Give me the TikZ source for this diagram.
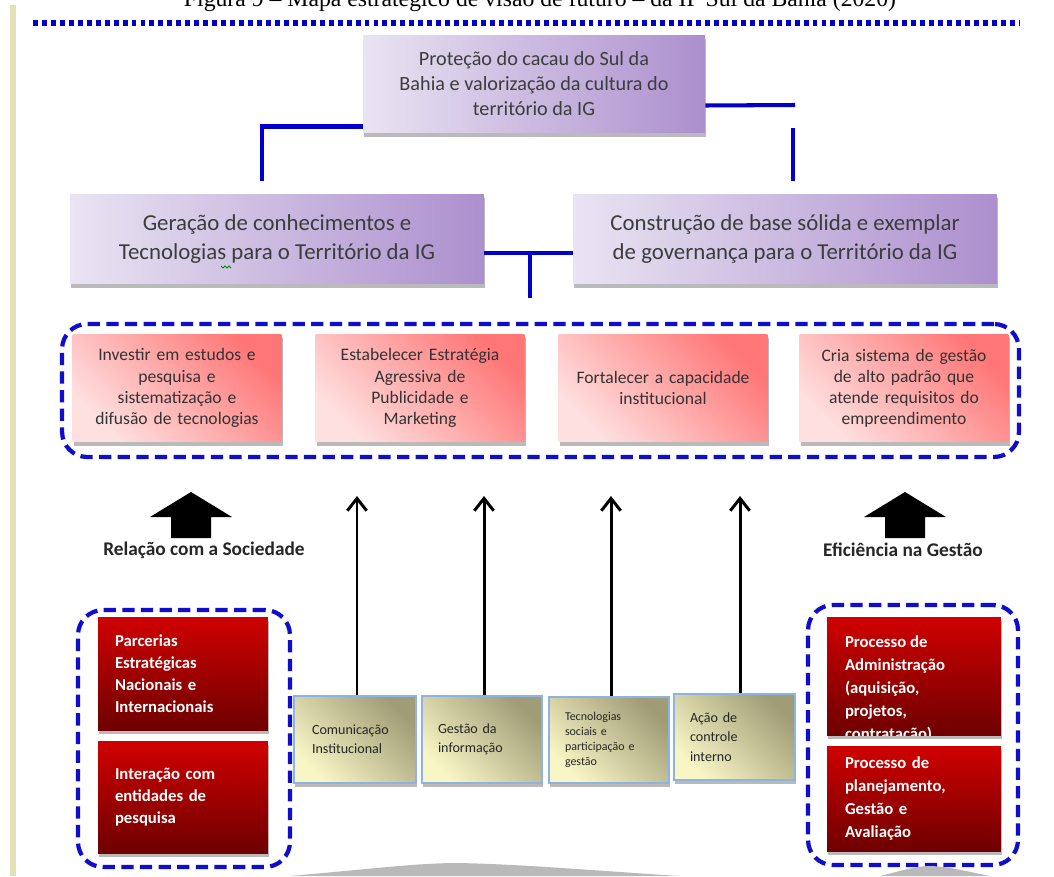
\documentclass[tikz,border=0pt]{standalone}
\usepackage{fontspec}
\setmainfont{Carlito}
\newfontfamily\capfont{Liberation Serif}
\usetikzlibrary{arrows.meta,shadows}
\definecolor{conblue}{RGB}{0,0,204}
\definecolor{dashblue}{RGB}{14,14,204}
\definecolor{purL}{RGB}{233,228,242}
\definecolor{purR}{RGB}{172,143,206}
\definecolor{pinkTR}{RGB}{255,118,118}
\definecolor{pinkBL}{RGB}{255,224,224}
\definecolor{redT}{RGB}{208,0,0}
\definecolor{redB}{RGB}{110,0,0}
\definecolor{yelTR}{RGB}{160,156,118}
\definecolor{yelBL}{RGB}{249,246,198}
\definecolor{yelBorder}{RGB}{141,179,226}
\definecolor{txtgray}{RGB}{60,60,60}
\definecolor{beige}{RGB}{229,225,182}
\tikzset{
  shad/.style={drop shadow={shadow xshift=0.8pt,shadow yshift=-2.2pt,opacity=0.45,fill=black!60}},
  purbox/.style={left color=purL,right color=purR,shad,text=txtgray,align=center,inner sep=0pt},
  pinkbox/.style={top color=pinkTR,bottom color=pinkBL,shading angle=-45,shad,
    minimum width=4.18cm,minimum height=2.16cm,text width=3.9cm,align=center,inner sep=0pt,
    text=black!80,font=\fontsize{10}{12}\selectfont},
  redbox/.style={top color=redT,bottom color=redB,shad,inner sep=0pt,
    text=white,align=left,font=\bfseries\fontsize{9.5}{12.5}\selectfont},
  yelbox/.style={top color=yelTR,bottom color=yelBL,shading angle=-45,draw=yelBorder,line width=1.2pt,
    shad,inner sep=0pt,align=left,text=black!85},
  dashbox/.style={draw=dashblue,line width=2.4pt,dash pattern=on 7pt off 3.6pt,rounded corners=0.5cm,inner sep=0pt},
  conn/.style={draw=conblue,line width=2.3pt},
  thinarr/.style={draw=black,line width=1.7pt,-{Straight Barb[length=7pt,width=11pt]}},
  sublabel/.style={font=\bfseries\fontsize{11}{13}\selectfont,text=black!85}
}
\begin{document}
\begin{tikzpicture}[x=0.02cm,y=-0.02cm]
\useasboundingbox (0,0) rectangle (1054,876);
\fill[white] (0,0) rectangle (1054,876);
% left stripe and caption
\fill[beige] (10,5) rectangle (16,876);
\node[font=\capfont\fontsize{13.5}{16}\selectfont,anchor=base,text=black] (cap) at (540,6)
  {Figura 9 – Mapa estratégico de visão de futuro – da IP Sul da Bahia (2020)};
\draw[conblue,line width=3.2pt,dash pattern=on 2.8pt off 2.3pt] (33,23) -- (1020,23);

% top box
\node[purbox,minimum width=6.84cm,minimum height=1.96cm,font=\fontsize{11.5}{14.2}\selectfont] (top) at (534,84)
  {Proteção do cacau do Sul da\\Bahia e valorização da cultura do\\território da IG};
% middle boxes
\node[purbox,minimum width=8.28cm,minimum height=1.8cm,font=\fontsize{13}{17}\selectfont] (gl) at (277,239)
  {Geração de conhecimentos e\\Tecnologias para o Território da IG};
\node[purbox,minimum width=8.48cm,minimum height=1.8cm,font=\fontsize{13}{17}\selectfont] (gr) at (785,239)
  {Construção de base sólida e exemplar\\de governança para o Território da IG};
\draw[green!55!black,line width=0.5pt] (221,266) -- (223,268) -- (225,266) -- (227,268) -- (229,266) -- (231,268);

% connectors top
\coordinate (cl) at (262,181);
\coordinate (crh) at (795,105);
\coordinate (crt) at (793,128);
\coordinate (crb) at (793,181);
\draw[conn] ([yshift=-0.85cm]top.west) -| (cl);
\draw[conn] ([yshift=-0.43cm]top.east) -- (crh);
\draw[conn] (crt) -- (crb);
\coordinate (mj) at (530,253);
\coordinate (mb) at (530,298);
\draw[conn] ([yshift=-0.28cm]gl.east) -- ([yshift=-0.28cm]gr.west);
\draw[conn] (mj) -- (mb);

% strategic objectives group
\node[dashbox,minimum width=19.14cm,minimum height=2.66cm] (grp) at (540.5,390.5) {};
\node[pinkbox] (p1) at (177,388) {Investir em estudos e\\pesquisa e\\sistematização e\\difusão de tecnologias};
\node[pinkbox] (p2) at (420,388) {Estabelecer Estratégia\\Agressiva de\\Publicidade e\\Marketing};
\node[pinkbox] (p3) at (663,388) {Fortalecer a capacidade\\institucional};
\node[pinkbox] (p4) at (904,388) {Cria sistema de gestão\\de alto padrão que\\atende requisitos do\\empreendimento};

% big arrows and labels
\fill[black] (171,538) -- (171,517) -- (150,517) -- (191,492) -- (232,517) -- (211,517) -- (211,538) -- cycle;
\fill[black] (885,538) -- (885,517) -- (864,517) -- (905,492) -- (946,517) -- (925,517) -- (925,538) -- cycle;
\node[sublabel] (lsoc) at (204,550) {Relação com a Sociedade};
\node[sublabel] (lges) at (903,550) {Eficiência na Gestão};

% left group
\node[dashbox,minimum width=4.24cm,minimum height=5.14cm] (lg) at (184,738.5) {};
\node[redbox,minimum width=3.4cm,minimum height=2.26cm,text width=2.72cm] (rl1) at (183,673.5)
  {Parcerias\\Estratégicas\\Nacionais e\\Internacionais};
\node[redbox,minimum width=3.4cm,minimum height=2.24cm,text width=2.72cm] (rl2) at (183,797)
  {Interação com\\entidades de\\pesquisa};

% right group
\node[dashbox,minimum width=4.2cm,minimum height=5.2cm] (rg) at (913,735) {};
\node[redbox,minimum width=3.48cm,minimum height=2.36cm] (rr1) at (914,676) {};
\begin{scope}
\clip (rr1.south west) rectangle (rr1.north east);
\node[anchor=north west,text=white,align=left,inner sep=0pt,font=\bfseries\fontsize{9.5}{13}\selectfont] (rr1t)
  at ([xshift=0.36cm,yshift=-0.38cm]rr1.north west)
  {Processo de\\Administração\\(aquisição,\\projetos,\\contratação)};
\end{scope}
\node[redbox,minimum width=3.48cm,minimum height=2.1cm,text width=2.76cm,font=\bfseries\fontsize{9.5}{13}\selectfont] (rr2) at (914,798.5)
  {Processo de\\planejamento,\\Gestão e\\Avaliação};

% yellow boxes
\node[yelbox,minimum width=2.44cm,minimum height=1.74cm,text width=1.72cm,font=\fontsize{8}{11}\selectfont] (yb1) at (355,739.5)
  {Comunicação\\Institucional};
\node[yelbox,minimum width=2.4cm,minimum height=1.74cm,text width=1.76cm,font=\fontsize{8}{11}\selectfont] (yb2) at (482,739.5)
  {Gestão da\\informação};
\node[yelbox,minimum width=2.4cm,minimum height=1.72cm,text width=1.76cm,font=\fontsize{6.8}{8.6}\selectfont] (yb3) at (609,740)
  {Tecnologias\\sociais e\\participação e\\gestão};
\node[yelbox,minimum width=2.42cm,minimum height=1.72cm,text width=1.78cm,font=\fontsize{8}{11}\selectfont] (yb4) at (734.5,737)
  {Ação de\\controle\\interno};

% thin arrows
\coordinate (t1) at (357,496);
\coordinate (t2) at (484,496);
\coordinate (t3) at (611,496);
\coordinate (t4) at (740,496);
\draw[thinarr] (yb1.north -| t1) -- (t1);
\draw[thinarr] (yb2.north -| t2) -- (t2);
\draw[thinarr] (yb3.north -| t3) -- (t3);
\draw[thinarr] (yb4.north -| t4) -- (t4);

% bottom grey shapes
\fill[gray!55] (290,876) .. controls (380,868) and (420,863) .. (457,863) .. controls (520,864) and (600,871) .. (680,876) -- cycle;
\fill[gray!55] (880,876) .. controls (905,870) and (915,866) .. (932,866) .. controls (950,867) and (970,872) .. (990,876) -- cycle;
\end{tikzpicture}
\end{document}
